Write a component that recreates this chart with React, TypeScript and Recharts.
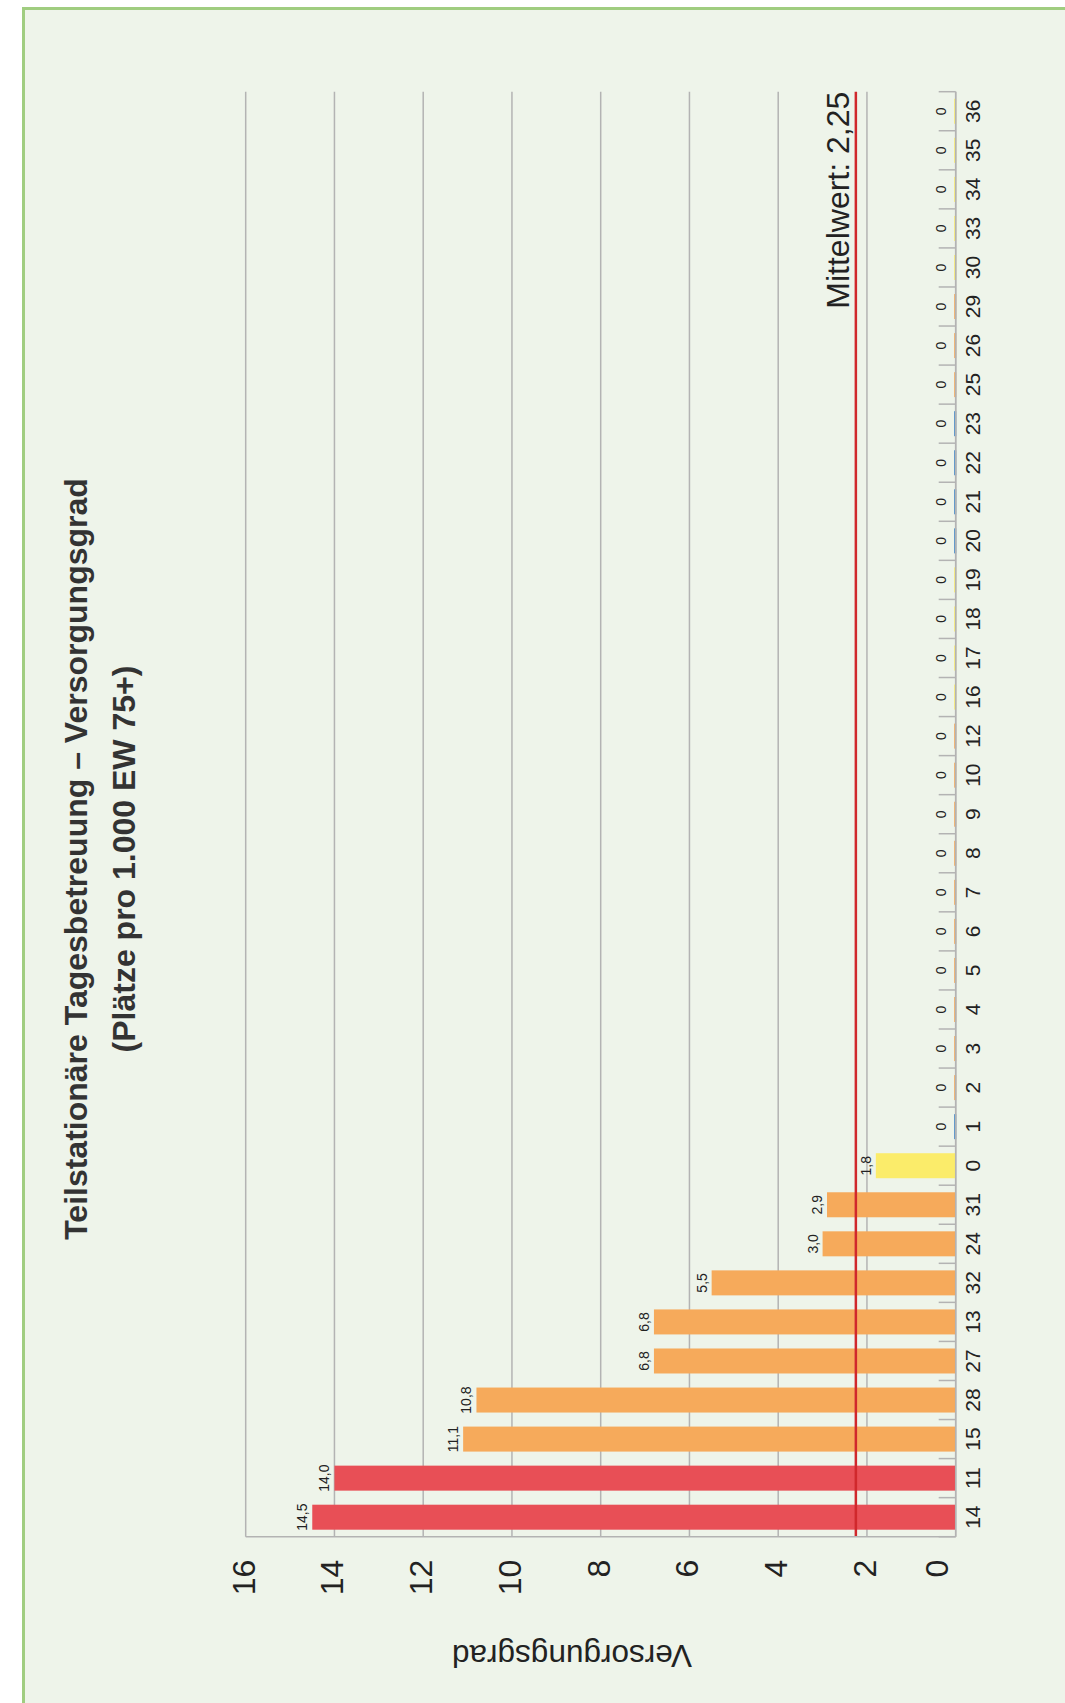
import { BarChart, Bar, XAxis, YAxis, CartesianGrid, ReferenceLine, LabelList } from 'recharts';

// Gemeinden in Reihenfolge des Versorgungsgrads
const categories = [
  '14', '11', '15', '28', '27', '13', '32', '24', '31', '0',
  '1', '2', '3', '4', '5', '6', '7', '8', '9', '10',
  '12', '16', '17', '18', '19', '20', '21', '22', '23', '25',
  '26', '29', '30', '33', '34', '35', '36',
];

const values = [
  14.5, 14.0, 11.1, 10.8, 6.8, 6.8, 5.5, 3.0, 2.9, 1.8,
  0, 0, 0, 0, 0, 0, 0, 0, 0, 0,
  0, 0, 0, 0, 0, 0, 0, 0, 0, 0,
  0, 0, 0, 0, 0, 0, 0,
];

const groups = [
  'rot', 'rot', 'orange', 'orange', 'orange', 'orange', 'orange', 'orange', 'orange', 'gelb',
  'blau', 'orange', 'orange', 'orange', 'orange', 'orange', 'orange', 'orange', 'orange', 'orange',
  'orange', 'gelb', 'gelb', 'gelb', 'gelb', 'blau', 'blau', 'blau', 'blau', 'orange',
  'orange', 'orange', 'gelb', 'gelb', 'gelb', 'gelb', 'gelb',
];

const valueTicks = [0, 2, 4, 6, 8, 10, 12, 14, 16];
const mittelwert = 2.25;

const palette: Record<string, string> = {
  rot: '#e84f56',
  orange: '#f6aa5b',
  gelb: '#fbec6a',
  blau: '#3d84c6',
};

const data = categories.map((name, i) => ({
  name,
  value: values[i],
  color: palette[groups[i]],
}));

// chart is laid out landscape and turned by -90deg
const W = 1703;
const H = 1065;
const PLOT_LEFT = 166.3;
const PLOT_RIGHT = 1611.3;
const PLOT_TOP = 245.7;
const PLOT_BOTTOM = 955.7;
const BAND = (PLOT_RIGHT - PLOT_LEFT) / categories.length;
const Y_AXIS_W = 100;
const X_AXIS_H = 60;

const GRID = '#b3b3b3';
const TEXT = '#222';
const FONT = '"Liberation Sans", Arial, Helvetica, sans-serif';

const fmt = (v: number) => (v === 0 ? '0' : v.toFixed(1).replace('.', ','));

const BarShape = (props: any) => {
  const { x, y, width, height, payload } = props;
  if (!height) {
    return <rect x={x} y={PLOT_BOTTOM - 1.5} width={width} height={2} fill={payload.color} />;
  }
  return <rect x={x} y={y} width={width} height={height} fill={payload.color} />;
};

const CategoryTick = (props: any) => {
  const { x, payload } = props;
  const edge = x - BAND / 2;
  const last = payload.value === categories[categories.length - 1];
  return (
    <g>
      <line x1={edge} x2={edge} y1={PLOT_BOTTOM} y2={PLOT_BOTTOM - 17} stroke={GRID} strokeWidth={1.5} />
      {last && (
        <line x1={x + BAND / 2} x2={x + BAND / 2} y1={PLOT_BOTTOM} y2={PLOT_BOTTOM - 17} stroke={GRID} strokeWidth={1.5} />
      )}
      <text x={x} y={PLOT_BOTTOM + 24.3} textAnchor="middle" fontSize={21} fill={TEXT}>
        {payload.value}
      </text>
    </g>
  );
};

const ValueTick = (props: any) => {
  const { y, payload } = props;
  const shift = payload.value === 0 ? -19 : -2;
  return (
    <text x={PLOT_LEFT - 23} y={y + shift} textAnchor="end" dominantBaseline="central" fontSize={32} fill={TEXT}>
      {payload.value}
    </text>
  );
};

const ValueLabel = (props: any) => {
  const { x, y, width, value } = props;
  const gap = value === 0 ? 10 : 5;
  return (
    <text x={x + width / 2} y={y - gap} textAnchor="middle" fontSize={14} fill={TEXT}>
      {fmt(value)}
    </text>
  );
};

const MeanLabel = (props: any) => {
  const { viewBox } = props;
  return (
    <text x={viewBox.x + viewBox.width} y={viewBox.y - 7} textAnchor="end" fontSize={32} fill={TEXT}>
      {`Mittelwert: ${String(mittelwert).replace('.', ',')}`}
    </text>
  );
};

export default function App() {
  return (
    <div style={{ position: 'fixed', left: 0, top: 0, width: 1065, height: 1703, overflow: 'hidden', background: '#fff', fontFamily: FONT }}>
      <div
        style={{
          position: 'absolute',
          left: 22,
          top: 7,
          right: 0,
          bottom: 0,
          borderLeft: '3px solid #a0cd80',
          borderTop: '3px solid #a0cd80',
          background: '#eef4ea',
        }}
      />
      <div
        style={{
          position: 'absolute',
          left: 0,
          top: 0,
          width: W,
          height: H,
          transformOrigin: '0 0',
          transform: `translate(0px, ${W}px) rotate(-90deg)`,
        }}
      >
        <div
          style={{
            position: 'absolute',
            left: 0,
            top: 52,
            width: 1688,
            textAlign: 'center',
            fontSize: 32,
            lineHeight: '48px',
            fontWeight: 'bold',
            color: '#333',
          }}
        >
          <div>Teilstationäre Tagesbetreuung – Versorgungsgrad</div>
          <div>(Plätze pro 1.000 EW 75+)</div>
        </div>
        <div
          style={{
            position: 'absolute',
            left: 48,
            top: 572,
            transform: 'translate(-50%, -50%) rotate(-90deg)',
            whiteSpace: 'nowrap',
            fontSize: 31.5,
            color: TEXT,
          }}
        >
          Versorgungsgrad
        </div>
        <BarChart
          width={W}
          height={H}
          data={data}
          margin={{
            top: PLOT_TOP,
            right: W - PLOT_RIGHT,
            left: PLOT_LEFT - Y_AXIS_W,
            bottom: H - PLOT_BOTTOM - X_AXIS_H,
          }}
          style={{ position: 'absolute', left: 0, top: 0 }}
        >
          <CartesianGrid vertical={false} stroke={GRID} strokeWidth={1.5} />
          <XAxis
            dataKey="name"
            type="category"
            interval={0}
            height={X_AXIS_H}
            axisLine={{ stroke: GRID, strokeWidth: 1.5 }}
            tickLine={false}
            tick={<CategoryTick />}
          />
          <YAxis
            type="number"
            domain={[0, 16]}
            ticks={valueTicks}
            width={Y_AXIS_W}
            axisLine={{ stroke: GRID, strokeWidth: 1.5 }}
            tickLine={false}
            tick={<ValueTick />}
          />
          <Bar dataKey="value" barSize={25} shape={<BarShape />} isAnimationActive={false}>
            <LabelList dataKey="value" content={<ValueLabel />} />
          </Bar>
          <ReferenceLine y={mittelwert} stroke="#d0282c" strokeWidth={2.5} label={<MeanLabel />} />
        </BarChart>
      </div>
    </div>
  );
}
